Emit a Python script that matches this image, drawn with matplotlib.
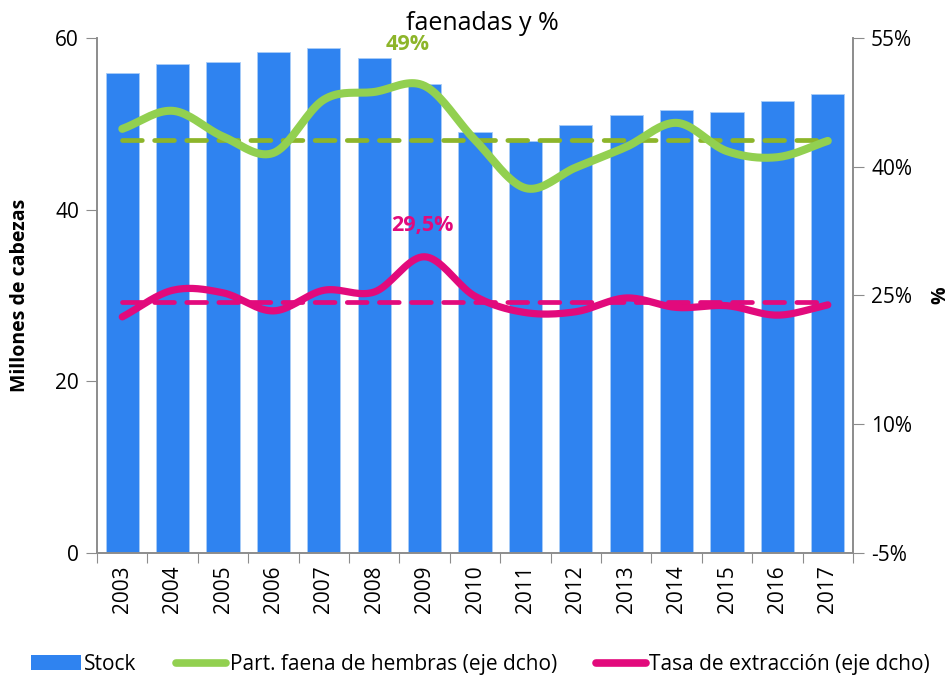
import numpy as np
import matplotlib
matplotlib.use("Agg")
import matplotlib.pyplot as plt
from matplotlib.patches import Patch
from matplotlib.lines import Line2D
from matplotlib.ticker import FixedLocator, FuncFormatter

plt.rcParams['font.family'] = ['Open Sans', 'DejaVu Sans']

# data
years = ['2003', '2004', '2005', '2006', '2007', '2008', '2009', '2010',
         '2011', '2012', '2013', '2014', '2015', '2016', '2017']
stock = [55.9, 56.9, 57.2, 58.4, 58.8, 57.6, 54.6, 49.0,
         48.0, 49.9, 51.0, 51.6, 51.4, 52.7, 53.5]
faena_hembras = [44.4, 46.5, 43.5, 41.6, 47.8, 48.7, 49.4, 43.1,
                 37.5, 39.9, 42.3, 45.1, 41.8, 41.1, 43.0]
tasa_extraccion = [22.5, 25.6, 25.3, 23.2, 25.6, 25.4, 29.5, 24.9,
                   23.0, 23.1, 24.7, 23.6, 23.8, 22.7, 23.9]
prom_hembras = 43.1
prom_tasa = 24.2

blue = '#2F83F0'
green = '#92D050'
green_dark = '#8DB52A'
pink = '#E20A7C'


def smooth(y, n=20):
    # catmull-rom curve through the points, like excel's smoothed line
    y = np.asarray(y, float)
    x = np.arange(len(y), dtype=float)
    px = np.concatenate([[2 * x[0] - x[1]], x, [2 * x[-1] - x[-2]]])
    py = np.concatenate([[2 * y[0] - y[1]], y, [2 * y[-1] - y[-2]]])
    xs, ys = [], []
    t = np.linspace(0, 1, n, endpoint=False)
    for i in range(1, len(px) - 2):
        for arr, out in ((px, xs), (py, ys)):
            p0, p1, p2, p3 = arr[i - 1], arr[i], arr[i + 1], arr[i + 2]
            out.extend(0.5 * (2 * p1 + (-p0 + p2) * t
                              + (2 * p0 - 5 * p1 + 4 * p2 - p3) * t ** 2
                              + (-p0 + 3 * p1 - 3 * p2 + p3) * t ** 3))
    xs.append(x[-1])
    ys.append(y[-1])
    return np.array(xs), np.array(ys)


fig = plt.figure(figsize=(9.52, 6.76), dpi=100)
ax = fig.add_axes([0.102, 0.182, 0.794, 0.762])
ax2 = ax.twinx()

xpos = np.arange(len(years))
ax.bar(xpos, stock, width=0.66, color=blue, edgecolor='#A9CCF7', linewidth=0.6, zorder=2)
ax.set_xlim(-0.5, len(years) - 0.5)
ax.set_ylim(0, 60)
ax.set_yticks([0, 20, 40, 60])
ax.set_ylabel('Millones de cabezas', fontsize=14, fontweight='bold', labelpad=18)

# ticks between categories, labels at centres
ax.xaxis.set_major_locator(FixedLocator(np.arange(-0.5, len(years), 1)))
ax.xaxis.set_major_formatter(FuncFormatter(lambda v, p: ''))
ax.xaxis.set_minor_locator(FixedLocator(xpos))
ax.set_xticklabels(years, minor=True, rotation=90, fontsize=15)
ax.tick_params(axis='x', which='major', length=7, color='#8C8C8C', direction='out')
ax.tick_params(axis='x', which='minor', length=0, pad=9)
ax.tick_params(axis='y', length=8, color='#8C8C8C', labelsize=15, pad=5)

ax2.set_ylim(-5, 55)
ax2.set_yticks([-5, 10, 25, 40, 55])
ax2.yaxis.set_major_formatter(FuncFormatter(lambda v, p: '%d%%' % v))
ax2.tick_params(axis='y', length=8, color='#8C8C8C', labelsize=15, pad=5)
ax2.set_ylabel('%', fontsize=14, fontweight='bold', labelpad=13)

for a in (ax, ax2):
    a.spines['top'].set_visible(False)
    for s in ('left', 'right', 'bottom'):
        a.spines[s].set_color('#8C8C8C')
        a.spines[s].set_linewidth(1.2)

# average lines
ax2.plot([xpos[0], xpos[-1]], [prom_hembras] * 2, color=green_dark, lw=3.4,
         dashes=(4.2, 2.6), dash_capstyle='round', zorder=3)
ax2.plot([xpos[0], xpos[-1]], [prom_tasa] * 2, color=pink, lw=3.4,
         dashes=(4.2, 2.6), dash_capstyle='round', zorder=3)

sx, sy = smooth(faena_hembras)
ax2.plot(sx, sy, color=green, lw=5.8, solid_capstyle='round', zorder=4)
sx, sy = smooth(tasa_extraccion)
ax2.plot(sx, sy, color=pink, lw=5.2, solid_capstyle='round', zorder=4)

ax2.text(5.66, 54.25, '49%', color=green_dark, fontsize=15.5, fontweight='bold',
         ha='center', va='center')
ax2.text(5.95, 33.2, '29,5%', color=pink, fontsize=15.5, fontweight='bold',
         ha='center', va='center')

fig.text(0.507, 0.965, 'faenadas y %', fontsize=18, ha='center', va='center')

handles = [Patch(facecolor=blue, edgecolor='none'),
           Line2D([], [], color=green, lw=5.5, solid_capstyle='round'),
           Line2D([], [], color=pink, lw=5.5, solid_capstyle='round')]
labels = ['Stock', 'Part. faena de hembras (eje dcho)', 'Tasa de extracción (eje dcho)']
fig.legend(handles, labels, loc='center', bbox_to_anchor=(0.505, 0.017), ncol=3,
           frameon=False, fontsize=15, handlelength=2.4, handleheight=0.75,
           handletextpad=0.15, columnspacing=1.9, borderpad=0)

fig.savefig('out.png', dpi=100)
